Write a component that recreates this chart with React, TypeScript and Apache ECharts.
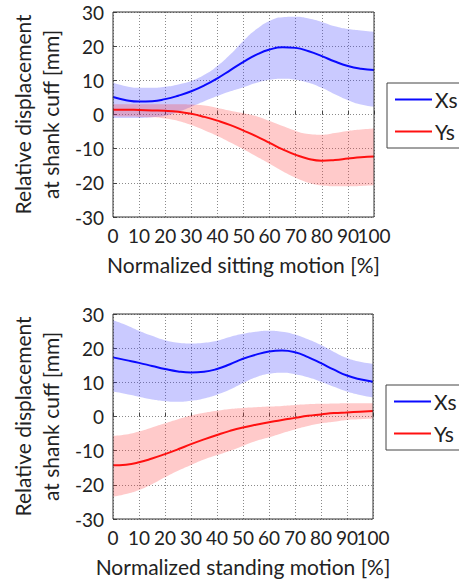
import React, { useEffect, useRef } from "react";
import * as echarts from "echarts";

// Normalized motion [%], sampled every 5 %
const motionPct = [
  "0", "5", "10", "15", "20", "25", "30", "35", "40", "45", "50",
  "55", "60", "65", "70", "75", "80", "85", "90", "95", "100",
];

// Sitting motion: mean and ±SD envelope [mm]
const sitXsMean = [5.1, 4.2, 3.8, 3.9, 4.5, 5.5, 6.8, 8.5, 10.6, 13.0, 15.4, 17.5, 19.0, 19.7, 19.5, 18.5, 17.1, 15.5, 14.2, 13.4, 13.0];
const sitXsUpper = [9.3, 8.3, 7.8, 7.8, 8.1, 8.8, 9.8, 11.6, 14.2, 17.6, 21.6, 25.0, 27.4, 28.5, 28.6, 28.1, 27.1, 25.8, 25.0, 24.6, 24.2];
const sitXsLower = [-1.0, -1.0, -1.0, -0.8, -0.4, 0.8, 2.3, 3.9, 5.4, 6.8, 8.0, 9.3, 10.2, 10.5, 10.2, 9.3, 7.8, 5.9, 4.2, 2.9, 2.2];
const sitYsMean = [1.4, 1.4, 1.3, 1.2, 1.1, 0.8, 0.2, -0.7, -1.8, -3.1, -4.7, -6.4, -8.3, -10.2, -11.8, -13.0, -13.5, -13.3, -12.9, -12.5, -12.3];
const sitYsUpper = [3.0, 3.0, 3.0, 3.0, 3.0, 3.0, 2.9, 2.6, 1.9, 1.1, 0.4, -0.5, -1.9, -3.4, -4.8, -5.7, -5.9, -5.4, -4.8, -4.4, -4.1];
const sitYsLower = [-0.5, -0.6, -0.7, -0.8, -1.2, -1.9, -3.1, -4.6, -6.3, -8.2, -10.2, -12.3, -14.4, -16.6, -18.5, -20.0, -20.8, -21.0, -21.0, -20.9, -20.7];

// Standing motion: mean and ±SD envelope [mm]
const stdXsMean = [17.3, 16.5, 15.7, 14.8, 13.9, 13.2, 12.9, 13.1, 13.9, 15.3, 16.9, 18.1, 19.0, 19.3, 18.8, 17.4, 15.6, 13.7, 12.0, 10.9, 10.2];
const stdXsUpper = [28.2, 26.8, 25.1, 23.6, 22.3, 21.6, 21.4, 21.6, 22.2, 23.3, 24.2, 24.8, 25.1, 24.8, 24.0, 22.6, 20.9, 18.9, 17.1, 16.0, 15.4];
const stdXsLower = [7.3, 6.6, 5.8, 5.0, 4.5, 4.3, 4.6, 5.3, 6.4, 7.9, 9.8, 11.5, 12.5, 12.8, 12.4, 11.5, 10.2, 8.7, 7.3, 6.3, 5.6];
const stdYsMean = [-14.3, -14.1, -13.4, -12.3, -11.0, -9.6, -8.1, -6.7, -5.4, -4.2, -3.2, -2.4, -1.7, -1.0, -0.4, 0.2, 0.6, 1.0, 1.2, 1.4, 1.6];
const stdYsUpper = [-5.7, -5.3, -4.4, -3.2, -2.0, -0.8, 0.3, 1.1, 1.7, 2.2, 2.5, 2.7, 2.9, 3.1, 3.4, 3.6, 3.7, 3.8, 3.9, 3.9, 3.9];
const stdYsLower = [-23.5, -22.7, -21.5, -19.8, -17.8, -15.9, -14.2, -12.6, -11.3, -10.0, -8.6, -7.2, -6.1, -4.9, -3.8, -2.8, -2.0, -1.5, -1.0, -0.8, -0.6];

const yTicks = { min: -30, max: 30, interval: 10 };

const FONT = "Lato, 'Open Sans', sans-serif";
const BLUE = "#0a0aff";
const RED = "#ff1010";
const BLUE_BAND = "rgba(60, 60, 255, 0.27)";
const RED_BAND = "rgba(255, 60, 60, 0.27)";
const SMOOTH = 0.5;

function bandSeries(id: string, idx: number, lower: number[], upper: number[], fill: string) {
  const stack = `band-${id}`;
  return [
    {
      name: `${id}-lower`,
      type: "line",
      xAxisIndex: idx,
      yAxisIndex: idx,
      stack,
      stackStrategy: "all",
      data: lower,
      smooth: SMOOTH,
      symbol: "none",
      lineStyle: { opacity: 0 },
      silent: true,
      z: 1,
    },
    {
      name: `${id}-spread`,
      type: "line",
      xAxisIndex: idx,
      yAxisIndex: idx,
      stack,
      stackStrategy: "all",
      data: upper.map((u, i) => u - lower[i]),
      smooth: SMOOTH,
      symbol: "none",
      lineStyle: { opacity: 0 },
      areaStyle: { color: fill, opacity: 1 },
      silent: true,
      z: 1,
    },
  ];
}

function meanSeries(name: string, idx: number, data: number[], color: string) {
  return {
    name,
    type: "line",
    xAxisIndex: idx,
    yAxisIndex: idx,
    data,
    smooth: SMOOTH,
    symbol: "none",
    lineStyle: { color, width: 2 },
    itemStyle: { color },
    z: 3,
  };
}

function xAxisFor(idx: number, title: string) {
  return {
    type: "category",
    gridIndex: idx,
    data: motionPct,
    boundaryGap: false,
    name: title,
    nameLocation: "middle",
    nameGap: 37,
    nameTextStyle: { fontFamily: FONT, fontSize: 21, color: "#222" },
    axisLine: { show: false },
    axisTick: { show: true, inside: true, length: 4, interval: 1, lineStyle: { color: "#444" } },
    // every category is laid out, only the 10 % steps carry text
    axisLabel: {
      interval: 0,
      formatter: (value: string, i: number) => (i % 2 === 0 ? value : ""),
      fontFamily: FONT,
      fontSize: 19,
      color: "#222",
      margin: 9,
    },
    splitLine: { show: true, interval: 1, lineStyle: { color: "#8a8a8a", type: [1, 2], width: 1 } },
  };
}

function yAxisFor(idx: number) {
  return {
    type: "value",
    gridIndex: idx,
    ...yTicks,
    name: "Relative displacement\nat shank cuff [mm]",
    nameLocation: "middle",
    nameRotate: 90,
    nameGap: 49,
    nameTextStyle: { fontFamily: FONT, fontSize: 21, lineHeight: 28, color: "#222" },
    axisLine: { show: false },
    axisTick: { show: true, inside: true, length: 4, lineStyle: { color: "#444" } },
    axisLabel: { fontFamily: FONT, fontSize: 19, color: "#222", margin: 9 },
    splitLine: { show: true, lineStyle: { color: "#8a8a8a", type: [1, 2], width: 1 } },
  };
}

function legendAt(left: number, top: number) {
  return {
    data: ["Xs", "Ys"],
    orient: "vertical",
    left,
    top,
    icon: "rect",
    padding: [6, 10, 6, 8],
    itemWidth: 37,
    itemHeight: 2,
    itemGap: 11,
    borderColor: "#444",
    borderWidth: 1,
    backgroundColor: "#fff",
    textStyle: { fontFamily: FONT, fontSize: 21, lineHeight: 21, color: "#222", padding: [0, 0, 0, -2] },
  };
}

export default function App() {
  const ref = useRef<HTMLDivElement>(null);

  useEffect(() => {
    if (!ref.current) return;
    const chart = echarts.init(ref.current, undefined, { renderer: "svg" });
    chart.setOption({
      animation: false,
      backgroundColor: "#fff",
      grid: [
        { left: 108, top: 12, width: 266, height: 205, show: true, borderColor: "#333", borderWidth: 1, backgroundColor: "transparent", z: 4 },
        { left: 107, top: 314, width: 266, height: 205, show: true, borderColor: "#333", borderWidth: 1, backgroundColor: "transparent", z: 4 },
      ],
      xAxis: [
        xAxisFor(0, "Normalized sitting motion [%]"),
        xAxisFor(1, "Normalized standing motion [%]"),
      ],
      yAxis: [yAxisFor(0), yAxisFor(1)],
      legend: [legendAt(387, 83), legendAt(386, 385)],
      series: [
        ...bandSeries("sitXs", 0, sitXsLower, sitXsUpper, BLUE_BAND),
        ...bandSeries("sitYs", 0, sitYsLower, sitYsUpper, RED_BAND),
        meanSeries("Xs", 0, sitXsMean, BLUE),
        meanSeries("Ys", 0, sitYsMean, RED),
        ...bandSeries("stdXs", 1, stdXsLower, stdXsUpper, BLUE_BAND),
        ...bandSeries("stdYs", 1, stdYsLower, stdYsUpper, RED_BAND),
        meanSeries("Xs", 1, stdXsMean, BLUE),
        meanSeries("Ys", 1, stdYsMean, RED),
      ],
    });
    return () => chart.dispose();
  }, []);

  return (
    <div
      ref={ref}
      style={{ position: "fixed", left: 0, top: 0, width: 459, height: 581, background: "#fff" }}
    />
  );
}
